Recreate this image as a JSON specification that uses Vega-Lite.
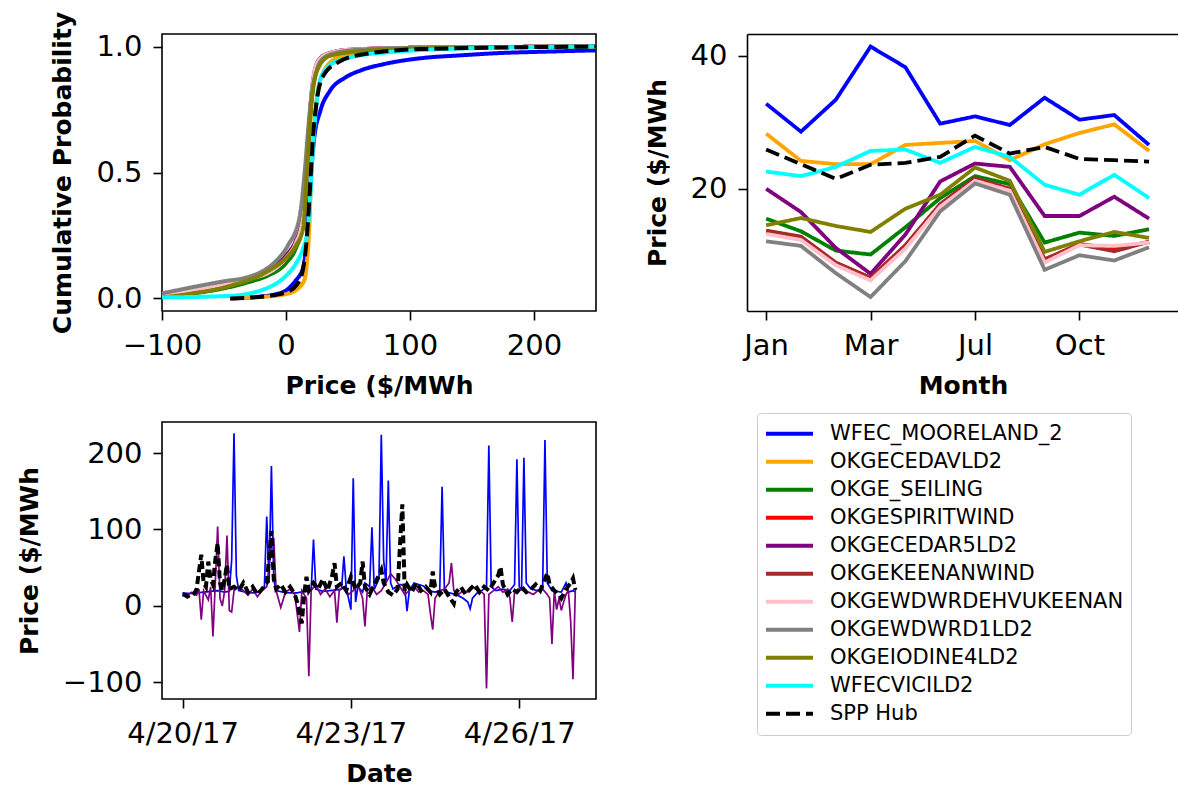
{
 "$schema": "https://vega.github.io/schema/vega-lite/v6.json",
 "background": "white",
 "padding": {"left": 16, "top": 10, "right": 0, "bottom": 2},
 "config": {
  "font": "DejaVu Sans",
  "view": {"stroke": "black", "strokeWidth": 1.6},
  "axis": {"grid": false, "domain": false, "tickColor": "black", "tickWidth": 1.6, "tickSize": 9, "labelFontSize": 29, "labelColor": "black", "labelPadding": 11, "labelFont": "DejaVu Sans", "titleFont": "DejaVu Sans", "titleFontSize": 25, "titleFontWeight": "bold", "titleColor": "black", "labelFlush": false, "labelOverlap": false},
  "axisX": {"titlePadding": 13},
  "axisY": {"titlePadding": 20}
 },
 "datasets": {
  "cdf": [
   {"s":"WFEC_MOORELAND_2","p":-45,"c":0},{"s":"WFEC_MOORELAND_2","p":-20,"c":0.008},{"s":"WFEC_MOORELAND_2","p":-7.7,"c":0.017},{"s":"WFEC_MOORELAND_2","p":1.5,"c":0.037},{"s":"WFEC_MOORELAND_2","p":7.7,"c":0.07},{"s":"WFEC_MOORELAND_2","p":13.9,"c":0.123},{"s":"WFEC_MOORELAND_2","p":17,"c":0.255},{"s":"WFEC_MOORELAND_2","p":19.4,"c":0.44},{"s":"WFEC_MOORELAND_2","p":22.5,"c":0.626},{"s":"WFEC_MOORELAND_2","p":27.7,"c":0.745},{"s":"WFEC_MOORELAND_2","p":35.4,"c":0.824},{"s":"WFEC_MOORELAND_2","p":47.8,"c":0.877},{"s":"WFEC_MOORELAND_2","p":60,"c":0.905},{"s":"WFEC_MOORELAND_2","p":78.6,"c":0.93},{"s":"WFEC_MOORELAND_2","p":109,"c":0.954},{"s":"WFEC_MOORELAND_2","p":140,"c":0.965},{"s":"WFEC_MOORELAND_2","p":171,"c":0.974},{"s":"WFEC_MOORELAND_2","p":210,"c":0.98},{"s":"WFEC_MOORELAND_2","p":250,"c":0.985},
   {"s":"OKGECEDAVLD2","p":-45,"c":0},{"s":"OKGECEDAVLD2","p":-20,"c":0.006},{"s":"OKGECEDAVLD2","p":0,"c":0.017},{"s":"OKGECEDAVLD2","p":10.8,"c":0.044},{"s":"OKGECEDAVLD2","p":15.4,"c":0.083},{"s":"OKGECEDAVLD2","p":17,"c":0.15},{"s":"OKGECEDAVLD2","p":18.5,"c":0.255},{"s":"OKGECEDAVLD2","p":20.6,"c":0.52},{"s":"OKGECEDAVLD2","p":23.7,"c":0.745},{"s":"OKGECEDAVLD2","p":29.3,"c":0.89},{"s":"OKGECEDAVLD2","p":41.6,"c":0.956},{"s":"OKGECEDAVLD2","p":60,"c":0.975},{"s":"OKGECEDAVLD2","p":78.6,"c":0.983},{"s":"OKGECEDAVLD2","p":120,"c":0.992},{"s":"OKGECEDAVLD2","p":250,"c":1.0},
   {"s":"OKGE_SEILING","p":-100,"c":0.008},{"s":"OKGE_SEILING","p":-75,"c":0.02},{"s":"OKGE_SEILING","p":-50,"c":0.04},{"s":"OKGE_SEILING","p":-30,"c":0.065},{"s":"OKGE_SEILING","p":-15,"c":0.09},{"s":"OKGE_SEILING","p":0,"c":0.14},{"s":"OKGE_SEILING","p":8,"c":0.2},{"s":"OKGE_SEILING","p":13,"c":0.28},{"s":"OKGE_SEILING","p":16,"c":0.45},{"s":"OKGE_SEILING","p":18,"c":0.6},{"s":"OKGE_SEILING","p":20,"c":0.75},{"s":"OKGE_SEILING","p":23,"c":0.88},{"s":"OKGE_SEILING","p":27,"c":0.94},{"s":"OKGE_SEILING","p":35,"c":0.97},{"s":"OKGE_SEILING","p":50,"c":0.985},{"s":"OKGE_SEILING","p":100,"c":0.995},{"s":"OKGE_SEILING","p":250,"c":1.0},
   {"s":"OKGESPIRITWIND","p":-100,"c":0.012},{"s":"OKGESPIRITWIND","p":-75,"c":0.03},{"s":"OKGESPIRITWIND","p":-50,"c":0.052},{"s":"OKGESPIRITWIND","p":-30,"c":0.078},{"s":"OKGESPIRITWIND","p":-15,"c":0.105},{"s":"OKGESPIRITWIND","p":0,"c":0.16},{"s":"OKGESPIRITWIND","p":8,"c":0.22},{"s":"OKGESPIRITWIND","p":13,"c":0.3},{"s":"OKGESPIRITWIND","p":16,"c":0.47},{"s":"OKGESPIRITWIND","p":18,"c":0.62},{"s":"OKGESPIRITWIND","p":20,"c":0.77},{"s":"OKGESPIRITWIND","p":23,"c":0.89},{"s":"OKGESPIRITWIND","p":27,"c":0.945},{"s":"OKGESPIRITWIND","p":35,"c":0.972},{"s":"OKGESPIRITWIND","p":50,"c":0.986},{"s":"OKGESPIRITWIND","p":100,"c":0.995},{"s":"OKGESPIRITWIND","p":250,"c":1.0},
   {"s":"OKGECEDAR5LD2","p":-100,"c":0.014},{"s":"OKGECEDAR5LD2","p":-75,"c":0.032},{"s":"OKGECEDAR5LD2","p":-50,"c":0.055},{"s":"OKGECEDAR5LD2","p":-30,"c":0.08},{"s":"OKGECEDAR5LD2","p":-15,"c":0.11},{"s":"OKGECEDAR5LD2","p":0,"c":0.17},{"s":"OKGECEDAR5LD2","p":8,"c":0.23},{"s":"OKGECEDAR5LD2","p":13,"c":0.31},{"s":"OKGECEDAR5LD2","p":16,"c":0.48},{"s":"OKGECEDAR5LD2","p":18,"c":0.63},{"s":"OKGECEDAR5LD2","p":20,"c":0.78},{"s":"OKGECEDAR5LD2","p":23,"c":0.9},{"s":"OKGECEDAR5LD2","p":27,"c":0.95},{"s":"OKGECEDAR5LD2","p":35,"c":0.974},{"s":"OKGECEDAR5LD2","p":50,"c":0.987},{"s":"OKGECEDAR5LD2","p":100,"c":0.995},{"s":"OKGECEDAR5LD2","p":250,"c":1.0},
   {"s":"OKGEKEENANWIND","p":-100,"c":0.014},{"s":"OKGEKEENANWIND","p":-75,"c":0.032},{"s":"OKGEKEENANWIND","p":-50,"c":0.054},{"s":"OKGEKEENANWIND","p":-30,"c":0.08},{"s":"OKGEKEENANWIND","p":-15,"c":0.107},{"s":"OKGEKEENANWIND","p":0,"c":0.162},{"s":"OKGEKEENANWIND","p":8,"c":0.222},{"s":"OKGEKEENANWIND","p":13,"c":0.302},{"s":"OKGEKEENANWIND","p":16,"c":0.472},{"s":"OKGEKEENANWIND","p":18,"c":0.622},{"s":"OKGEKEENANWIND","p":20,"c":0.772},{"s":"OKGEKEENANWIND","p":23,"c":0.892},{"s":"OKGEKEENANWIND","p":27,"c":0.946},{"s":"OKGEKEENANWIND","p":35,"c":0.972},{"s":"OKGEKEENANWIND","p":50,"c":0.986},{"s":"OKGEKEENANWIND","p":100,"c":0.995},{"s":"OKGEKEENANWIND","p":250,"c":1.0},
   {"s":"OKGEWDWRDEHVUKEENAN","p":-100,"c":0.012},{"s":"OKGEWDWRDEHVUKEENAN","p":-75,"c":0.035},{"s":"OKGEWDWRDEHVUKEENAN","p":-60,"c":0.046},{"s":"OKGEWDWRDEHVUKEENAN","p":-40,"c":0.07},{"s":"OKGEWDWRDEHVUKEENAN","p":-15,"c":0.1},{"s":"OKGEWDWRDEHVUKEENAN","p":0,"c":0.16},{"s":"OKGEWDWRDEHVUKEENAN","p":8,"c":0.22},{"s":"OKGEWDWRDEHVUKEENAN","p":13,"c":0.3},{"s":"OKGEWDWRDEHVUKEENAN","p":16,"c":0.47},{"s":"OKGEWDWRDEHVUKEENAN","p":18,"c":0.63},{"s":"OKGEWDWRDEHVUKEENAN","p":20,"c":0.78},{"s":"OKGEWDWRDEHVUKEENAN","p":23,"c":0.9},{"s":"OKGEWDWRDEHVUKEENAN","p":27,"c":0.948},{"s":"OKGEWDWRDEHVUKEENAN","p":35,"c":0.973},{"s":"OKGEWDWRDEHVUKEENAN","p":50,"c":0.987},{"s":"OKGEWDWRDEHVUKEENAN","p":100,"c":0.995},{"s":"OKGEWDWRDEHVUKEENAN","p":250,"c":1.0},
   {"s":"OKGEWDWRD1LD2","p":-100,"c":0.02},{"s":"OKGEWDWRD1LD2","p":-75,"c":0.045},{"s":"OKGEWDWRD1LD2","p":-50,"c":0.068},{"s":"OKGEWDWRD1LD2","p":-32,"c":0.083},{"s":"OKGEWDWRD1LD2","p":-15,"c":0.12},{"s":"OKGEWDWRD1LD2","p":-7.7,"c":0.15},{"s":"OKGEWDWRD1LD2","p":1.5,"c":0.21},{"s":"OKGEWDWRD1LD2","p":10.8,"c":0.32},{"s":"OKGEWDWRD1LD2","p":15.4,"c":0.52},{"s":"OKGEWDWRD1LD2","p":18,"c":0.68},{"s":"OKGEWDWRD1LD2","p":21,"c":0.82},{"s":"OKGEWDWRD1LD2","p":25,"c":0.91},{"s":"OKGEWDWRD1LD2","p":29.3,"c":0.95},{"s":"OKGEWDWRD1LD2","p":40,"c":0.975},{"s":"OKGEWDWRD1LD2","p":60,"c":0.988},{"s":"OKGEWDWRD1LD2","p":100,"c":0.995},{"s":"OKGEWDWRD1LD2","p":250,"c":1.0},
   {"s":"OKGEIODINE4LD2","p":-100,"c":0.004},{"s":"OKGEIODINE4LD2","p":-75,"c":0.02},{"s":"OKGEIODINE4LD2","p":-45,"c":0.05},{"s":"OKGEIODINE4LD2","p":-14,"c":0.11},{"s":"OKGEIODINE4LD2","p":0,"c":0.16},{"s":"OKGEIODINE4LD2","p":8,"c":0.21},{"s":"OKGEIODINE4LD2","p":13.9,"c":0.28},{"s":"OKGEIODINE4LD2","p":17,"c":0.52},{"s":"OKGEIODINE4LD2","p":20.6,"c":0.78},{"s":"OKGEIODINE4LD2","p":26.2,"c":0.917},{"s":"OKGEIODINE4LD2","p":35.4,"c":0.963},{"s":"OKGEIODINE4LD2","p":63,"c":0.983},{"s":"OKGEIODINE4LD2","p":109,"c":0.993},{"s":"OKGEIODINE4LD2","p":250,"c":1.0},
   {"s":"WFECVICILD2","p":-100,"c":0.004},{"s":"WFECVICILD2","p":-45,"c":0.01},{"s":"WFECVICILD2","p":-13.9,"c":0.044},{"s":"WFECVICILD2","p":-1.5,"c":0.083},{"s":"WFECVICILD2","p":7.7,"c":0.136},{"s":"WFECVICILD2","p":13.9,"c":0.2},{"s":"WFECVICILD2","p":17,"c":0.255},{"s":"WFECVICILD2","p":19.4,"c":0.39},{"s":"WFECVICILD2","p":21.6,"c":0.586},{"s":"WFECVICILD2","p":24.7,"c":0.78},{"s":"WFECVICILD2","p":29.3,"c":0.89},{"s":"WFECVICILD2","p":41.6,"c":0.943},{"s":"WFECVICILD2","p":78.6,"c":0.976},{"s":"WFECVICILD2","p":171,"c":0.996},{"s":"WFECVICILD2","p":250,"c":1.0},
   {"s":"SPP Hub","p":-45,"c":0},{"s":"SPP Hub","p":-13.9,"c":0.01},{"s":"SPP Hub","p":0,"c":0.024},{"s":"SPP Hub","p":9.2,"c":0.057},{"s":"SPP Hub","p":13.9,"c":0.12},{"s":"SPP Hub","p":17,"c":0.255},{"s":"SPP Hub","p":19.4,"c":0.44},{"s":"SPP Hub","p":21.6,"c":0.626},{"s":"SPP Hub","p":24.7,"c":0.78},{"s":"SPP Hub","p":29.3,"c":0.877},{"s":"SPP Hub","p":41.6,"c":0.937},{"s":"SPP Hub","p":63,"c":0.97},{"s":"SPP Hub","p":109,"c":0.99},{"s":"SPP Hub","p":250,"c":1.0}
  ],
  "monthly": [
   {"s":"WFEC_MOORELAND_2","i":0,"v":32.8},{"s":"WFEC_MOORELAND_2","i":1,"v":28.6},{"s":"WFEC_MOORELAND_2","i":2,"v":33.4},{"s":"WFEC_MOORELAND_2","i":3,"v":41.4},{"s":"WFEC_MOORELAND_2","i":4,"v":38.3},{"s":"WFEC_MOORELAND_2","i":5,"v":29.8},{"s":"WFEC_MOORELAND_2","i":6,"v":30.9},{"s":"WFEC_MOORELAND_2","i":7,"v":29.6},{"s":"WFEC_MOORELAND_2","i":8,"v":33.7},{"s":"WFEC_MOORELAND_2","i":9,"v":30.4},{"s":"WFEC_MOORELAND_2","i":10,"v":31.1},{"s":"WFEC_MOORELAND_2","i":11,"v":26.6},
   {"s":"OKGECEDAVLD2","i":0,"v":28.3},{"s":"OKGECEDAVLD2","i":1,"v":24.2},{"s":"OKGECEDAVLD2","i":2,"v":23.7},{"s":"OKGECEDAVLD2","i":3,"v":23.7},{"s":"OKGECEDAVLD2","i":4,"v":26.6},{"s":"OKGECEDAVLD2","i":5,"v":26.9},{"s":"OKGECEDAVLD2","i":6,"v":27.2},{"s":"OKGECEDAVLD2","i":7,"v":24.3},{"s":"OKGECEDAVLD2","i":8,"v":26.7},{"s":"OKGECEDAVLD2","i":9,"v":28.4},{"s":"OKGECEDAVLD2","i":10,"v":29.7},{"s":"OKGECEDAVLD2","i":11,"v":25.7},
   {"s":"OKGE_SEILING","i":0,"v":15.5},{"s":"OKGE_SEILING","i":1,"v":13.6},{"s":"OKGE_SEILING","i":2,"v":10.7},{"s":"OKGE_SEILING","i":3,"v":10.1},{"s":"OKGE_SEILING","i":4,"v":14.2},{"s":"OKGE_SEILING","i":5,"v":18.6},{"s":"OKGE_SEILING","i":6,"v":21.9},{"s":"OKGE_SEILING","i":7,"v":20.7},{"s":"OKGE_SEILING","i":8,"v":11.9},{"s":"OKGE_SEILING","i":9,"v":13.4},{"s":"OKGE_SEILING","i":10,"v":12.9},{"s":"OKGE_SEILING","i":11,"v":13.9},
   {"s":"OKGESPIRITWIND","i":0,"v":13.6},{"s":"OKGESPIRITWIND","i":1,"v":12.7},{"s":"OKGESPIRITWIND","i":2,"v":8.8},{"s":"OKGESPIRITWIND","i":3,"v":6.6},{"s":"OKGESPIRITWIND","i":4,"v":11.4},{"s":"OKGESPIRITWIND","i":5,"v":17.6},{"s":"OKGESPIRITWIND","i":6,"v":21.5},{"s":"OKGESPIRITWIND","i":7,"v":19.9},{"s":"OKGESPIRITWIND","i":8,"v":9.3},{"s":"OKGESPIRITWIND","i":9,"v":11.7},{"s":"OKGESPIRITWIND","i":10,"v":11.0},{"s":"OKGESPIRITWIND","i":11,"v":12.0},
   {"s":"OKGECEDAR5LD2","i":0,"v":20.0},{"s":"OKGECEDAR5LD2","i":1,"v":16.5},{"s":"OKGECEDAR5LD2","i":2,"v":11.1},{"s":"OKGECEDAR5LD2","i":3,"v":7.2},{"s":"OKGECEDAR5LD2","i":4,"v":13.1},{"s":"OKGECEDAR5LD2","i":5,"v":21.1},{"s":"OKGECEDAR5LD2","i":6,"v":23.8},{"s":"OKGECEDAR5LD2","i":7,"v":23.3},{"s":"OKGECEDAR5LD2","i":8,"v":15.9},{"s":"OKGECEDAR5LD2","i":9,"v":15.9},{"s":"OKGECEDAR5LD2","i":10,"v":18.8},{"s":"OKGECEDAR5LD2","i":11,"v":15.5},
   {"s":"OKGEKEENANWIND","i":0,"v":13.7},{"s":"OKGEKEENANWIND","i":1,"v":12.8},{"s":"OKGEKEENANWIND","i":2,"v":8.9},{"s":"OKGEKEENANWIND","i":3,"v":6.6},{"s":"OKGEKEENANWIND","i":4,"v":11.5},{"s":"OKGEKEENANWIND","i":5,"v":17.7},{"s":"OKGEKEENANWIND","i":6,"v":21.6},{"s":"OKGEKEENANWIND","i":7,"v":20.0},{"s":"OKGEKEENANWIND","i":8,"v":9.4},{"s":"OKGEKEENANWIND","i":9,"v":11.6},{"s":"OKGEKEENANWIND","i":10,"v":10.6},{"s":"OKGEKEENANWIND","i":11,"v":12.0},
   {"s":"OKGEWDWRDEHVUKEENAN","i":0,"v":13.2},{"s":"OKGEWDWRDEHVUKEENAN","i":1,"v":12.3},{"s":"OKGEWDWRDEHVUKEENAN","i":2,"v":8.5},{"s":"OKGEWDWRDEHVUKEENAN","i":3,"v":6.2},{"s":"OKGEWDWRDEHVUKEENAN","i":4,"v":11.0},{"s":"OKGEWDWRDEHVUKEENAN","i":5,"v":17.3},{"s":"OKGEWDWRDEHVUKEENAN","i":6,"v":21.2},{"s":"OKGEWDWRDEHVUKEENAN","i":7,"v":19.7},{"s":"OKGEWDWRDEHVUKEENAN","i":8,"v":8.9},{"s":"OKGEWDWRDEHVUKEENAN","i":9,"v":11.5},{"s":"OKGEWDWRDEHVUKEENAN","i":10,"v":11.4},{"s":"OKGEWDWRDEHVUKEENAN","i":11,"v":11.9},
   {"s":"OKGEWDWRD1LD2","i":0,"v":12.1},{"s":"OKGEWDWRD1LD2","i":1,"v":11.4},{"s":"OKGEWDWRD1LD2","i":2,"v":7.3},{"s":"OKGEWDWRD1LD2","i":3,"v":3.7},{"s":"OKGEWDWRD1LD2","i":4,"v":9.1},{"s":"OKGEWDWRD1LD2","i":5,"v":16.6},{"s":"OKGEWDWRD1LD2","i":6,"v":20.8},{"s":"OKGEWDWRD1LD2","i":7,"v":19.1},{"s":"OKGEWDWRD1LD2","i":8,"v":7.8},{"s":"OKGEWDWRD1LD2","i":9,"v":10.0},{"s":"OKGEWDWRD1LD2","i":10,"v":9.2},{"s":"OKGEWDWRD1LD2","i":11,"v":11.2},
   {"s":"OKGEIODINE4LD2","i":0,"v":14.5},{"s":"OKGEIODINE4LD2","i":1,"v":15.6},{"s":"OKGEIODINE4LD2","i":2,"v":14.4},{"s":"OKGEIODINE4LD2","i":3,"v":13.5},{"s":"OKGEIODINE4LD2","i":4,"v":17.0},{"s":"OKGEIODINE4LD2","i":5,"v":19.1},{"s":"OKGEIODINE4LD2","i":6,"v":23.2},{"s":"OKGEIODINE4LD2","i":7,"v":21.2},{"s":"OKGEIODINE4LD2","i":8,"v":10.5},{"s":"OKGEIODINE4LD2","i":9,"v":12.1},{"s":"OKGEIODINE4LD2","i":10,"v":13.5},{"s":"OKGEIODINE4LD2","i":11,"v":12.6},
   {"s":"WFECVICILD2","i":0,"v":22.6},{"s":"WFECVICILD2","i":1,"v":21.9},{"s":"WFECVICILD2","i":2,"v":23.3},{"s":"WFECVICILD2","i":3,"v":25.7},{"s":"WFECVICILD2","i":4,"v":25.9},{"s":"WFECVICILD2","i":5,"v":23.9},{"s":"WFECVICILD2","i":6,"v":26.3},{"s":"WFECVICILD2","i":7,"v":24.8},{"s":"WFECVICILD2","i":8,"v":20.6},{"s":"WFECVICILD2","i":9,"v":19.1},{"s":"WFECVICILD2","i":10,"v":22.1},{"s":"WFECVICILD2","i":11,"v":18.6},
   {"s":"SPP Hub","i":0,"v":25.9},{"s":"SPP Hub","i":1,"v":23.7},{"s":"SPP Hub","i":2,"v":21.5},{"s":"SPP Hub","i":3,"v":23.6},{"s":"SPP Hub","i":4,"v":23.9},{"s":"SPP Hub","i":5,"v":24.8},{"s":"SPP Hub","i":6,"v":28.0},{"s":"SPP Hub","i":7,"v":25.3},{"s":"SPP Hub","i":8,"v":26.3},{"s":"SPP Hub","i":9,"v":24.5},{"s":"SPP Hub","i":10,"v":24.3},{"s":"SPP Hub","i":11,"v":24.1}
  ],
  "hourly": [
   {"s":"WFEC_MOORELAND_2","t":"2017-04-20T00:00","v":17},{"s":"WFEC_MOORELAND_2","t":"2017-04-20T03:00","v":16},{"s":"WFEC_MOORELAND_2","t":"2017-04-20T06:00","v":17},{"s":"WFEC_MOORELAND_2","t":"2017-04-20T09:00","v":18},{"s":"WFEC_MOORELAND_2","t":"2017-04-20T12:00","v":19},{"s":"WFEC_MOORELAND_2","t":"2017-04-20T15:00","v":20},{"s":"WFEC_MOORELAND_2","t":"2017-04-20T18:00","v":18},{"s":"WFEC_MOORELAND_2","t":"2017-04-20T20:00","v":19},{"s":"WFEC_MOORELAND_2","t":"2017-04-20T21:00","v":60},{"s":"WFEC_MOORELAND_2","t":"2017-04-20T22:00","v":226},{"s":"WFEC_MOORELAND_2","t":"2017-04-20T23:00","v":40},
   {"s":"WFEC_MOORELAND_2","t":"2017-04-21T00:00","v":20},{"s":"WFEC_MOORELAND_2","t":"2017-04-21T03:00","v":18},{"s":"WFEC_MOORELAND_2","t":"2017-04-21T06:00","v":17},{"s":"WFEC_MOORELAND_2","t":"2017-04-21T09:00","v":18},{"s":"WFEC_MOORELAND_2","t":"2017-04-21T11:00","v":25},{"s":"WFEC_MOORELAND_2","t":"2017-04-21T12:00","v":117},{"s":"WFEC_MOORELAND_2","t":"2017-04-21T13:00","v":30},{"s":"WFEC_MOORELAND_2","t":"2017-04-21T14:00","v":183},{"s":"WFEC_MOORELAND_2","t":"2017-04-21T15:00","v":35},{"s":"WFEC_MOORELAND_2","t":"2017-04-21T16:00","v":20},{"s":"WFEC_MOORELAND_2","t":"2017-04-21T19:00","v":18},{"s":"WFEC_MOORELAND_2","t":"2017-04-21T22:00","v":17},
   {"s":"WFEC_MOORELAND_2","t":"2017-04-22T01:00","v":17},{"s":"WFEC_MOORELAND_2","t":"2017-04-22T04:00","v":19},{"s":"WFEC_MOORELAND_2","t":"2017-04-22T07:00","v":20},{"s":"WFEC_MOORELAND_2","t":"2017-04-22T08:00","v":87},{"s":"WFEC_MOORELAND_2","t":"2017-04-22T09:00","v":22},{"s":"WFEC_MOORELAND_2","t":"2017-04-22T12:00","v":19},{"s":"WFEC_MOORELAND_2","t":"2017-04-22T15:00","v":20},{"s":"WFEC_MOORELAND_2","t":"2017-04-22T18:00","v":21},{"s":"WFEC_MOORELAND_2","t":"2017-04-22T20:00","v":22},{"s":"WFEC_MOORELAND_2","t":"2017-04-22T21:00","v":65},{"s":"WFEC_MOORELAND_2","t":"2017-04-22T22:00","v":24},
   {"s":"WFEC_MOORELAND_2","t":"2017-04-23T00:00","v":-5},{"s":"WFEC_MOORELAND_2","t":"2017-04-23T01:00","v":167},{"s":"WFEC_MOORELAND_2","t":"2017-04-23T02:00","v":5},{"s":"WFEC_MOORELAND_2","t":"2017-04-23T03:00","v":25},{"s":"WFEC_MOORELAND_2","t":"2017-04-23T05:00","v":18},{"s":"WFEC_MOORELAND_2","t":"2017-04-23T06:00","v":30},{"s":"WFEC_MOORELAND_2","t":"2017-04-23T08:00","v":25},{"s":"WFEC_MOORELAND_2","t":"2017-04-23T09:00","v":103},{"s":"WFEC_MOORELAND_2","t":"2017-04-23T10:00","v":22},{"s":"WFEC_MOORELAND_2","t":"2017-04-23T12:00","v":35},{"s":"WFEC_MOORELAND_2","t":"2017-04-23T13:00","v":224},{"s":"WFEC_MOORELAND_2","t":"2017-04-23T14:00","v":60},{"s":"WFEC_MOORELAND_2","t":"2017-04-23T15:00","v":30},{"s":"WFEC_MOORELAND_2","t":"2017-04-23T16:00","v":164},{"s":"WFEC_MOORELAND_2","t":"2017-04-23T17:00","v":30},{"s":"WFEC_MOORELAND_2","t":"2017-04-23T18:00","v":22},{"s":"WFEC_MOORELAND_2","t":"2017-04-23T21:00","v":28},{"s":"WFEC_MOORELAND_2","t":"2017-04-23T23:00","v":26},
   {"s":"WFEC_MOORELAND_2","t":"2017-04-24T00:00","v":-7},{"s":"WFEC_MOORELAND_2","t":"2017-04-24T01:00","v":20},{"s":"WFEC_MOORELAND_2","t":"2017-04-24T03:00","v":30},{"s":"WFEC_MOORELAND_2","t":"2017-04-24T05:00","v":28},{"s":"WFEC_MOORELAND_2","t":"2017-04-24T07:00","v":26},{"s":"WFEC_MOORELAND_2","t":"2017-04-24T09:00","v":20},{"s":"WFEC_MOORELAND_2","t":"2017-04-24T12:00","v":18},{"s":"WFEC_MOORELAND_2","t":"2017-04-24T14:00","v":20},{"s":"WFEC_MOORELAND_2","t":"2017-04-24T15:00","v":156},{"s":"WFEC_MOORELAND_2","t":"2017-04-24T16:00","v":20},{"s":"WFEC_MOORELAND_2","t":"2017-04-24T18:00","v":17},{"s":"WFEC_MOORELAND_2","t":"2017-04-24T21:00","v":15},
   {"s":"WFEC_MOORELAND_2","t":"2017-04-25T00:00","v":10},{"s":"WFEC_MOORELAND_2","t":"2017-04-25T02:00","v":5},{"s":"WFEC_MOORELAND_2","t":"2017-04-25T03:00","v":-4},{"s":"WFEC_MOORELAND_2","t":"2017-04-25T04:00","v":10},{"s":"WFEC_MOORELAND_2","t":"2017-04-25T06:00","v":17},{"s":"WFEC_MOORELAND_2","t":"2017-04-25T08:00","v":20},{"s":"WFEC_MOORELAND_2","t":"2017-04-25T10:00","v":25},{"s":"WFEC_MOORELAND_2","t":"2017-04-25T11:00","v":210},{"s":"WFEC_MOORELAND_2","t":"2017-04-25T12:00","v":25},{"s":"WFEC_MOORELAND_2","t":"2017-04-25T14:00","v":20},{"s":"WFEC_MOORELAND_2","t":"2017-04-25T17:00","v":22},{"s":"WFEC_MOORELAND_2","t":"2017-04-25T20:00","v":20},{"s":"WFEC_MOORELAND_2","t":"2017-04-25T22:00","v":28},{"s":"WFEC_MOORELAND_2","t":"2017-04-25T23:00","v":192},
   {"s":"WFEC_MOORELAND_2","t":"2017-04-26T00:00","v":25},{"s":"WFEC_MOORELAND_2","t":"2017-04-26T01:00","v":22},{"s":"WFEC_MOORELAND_2","t":"2017-04-26T02:00","v":194},{"s":"WFEC_MOORELAND_2","t":"2017-04-26T03:00","v":30},{"s":"WFEC_MOORELAND_2","t":"2017-04-26T05:00","v":22},{"s":"WFEC_MOORELAND_2","t":"2017-04-26T08:00","v":20},{"s":"WFEC_MOORELAND_2","t":"2017-04-26T10:00","v":22},{"s":"WFEC_MOORELAND_2","t":"2017-04-26T11:00","v":217},{"s":"WFEC_MOORELAND_2","t":"2017-04-26T12:00","v":30},{"s":"WFEC_MOORELAND_2","t":"2017-04-26T14:00","v":20},{"s":"WFEC_MOORELAND_2","t":"2017-04-26T16:00","v":19},{"s":"WFEC_MOORELAND_2","t":"2017-04-26T18:00","v":18},{"s":"WFEC_MOORELAND_2","t":"2017-04-26T20:00","v":30},{"s":"WFEC_MOORELAND_2","t":"2017-04-26T21:00","v":18},{"s":"WFEC_MOORELAND_2","t":"2017-04-26T23:00","v":20},{"s":"WFEC_MOORELAND_2","t":"2017-04-27T00:00","v":18},
   {"s":"OKGECEDAR5LD2","t":"2017-04-20T00:00","v":16},{"s":"OKGECEDAR5LD2","t":"2017-04-20T02:00","v":15},{"s":"OKGECEDAR5LD2","t":"2017-04-20T04:00","v":18},{"s":"OKGECEDAR5LD2","t":"2017-04-20T06:00","v":14},{"s":"OKGECEDAR5LD2","t":"2017-04-20T07:00","v":22},{"s":"OKGECEDAR5LD2","t":"2017-04-20T08:00","v":-18},{"s":"OKGECEDAR5LD2","t":"2017-04-20T09:00","v":20},{"s":"OKGECEDAR5LD2","t":"2017-04-20T11:00","v":8},{"s":"OKGECEDAR5LD2","t":"2017-04-20T12:00","v":25},{"s":"OKGECEDAR5LD2","t":"2017-04-20T13:00","v":-40},{"s":"OKGECEDAR5LD2","t":"2017-04-20T14:00","v":30},{"s":"OKGECEDAR5LD2","t":"2017-04-20T15:00","v":104},{"s":"OKGECEDAR5LD2","t":"2017-04-20T16:00","v":10},{"s":"OKGECEDAR5LD2","t":"2017-04-20T17:00","v":0},{"s":"OKGECEDAR5LD2","t":"2017-04-20T18:00","v":20},{"s":"OKGECEDAR5LD2","t":"2017-04-20T19:00","v":92},{"s":"OKGECEDAR5LD2","t":"2017-04-20T20:00","v":-6},{"s":"OKGECEDAR5LD2","t":"2017-04-20T21:00","v":-8},{"s":"OKGECEDAR5LD2","t":"2017-04-20T22:00","v":20},
   {"s":"OKGECEDAR5LD2","t":"2017-04-21T00:00","v":25},{"s":"OKGECEDAR5LD2","t":"2017-04-21T02:00","v":20},{"s":"OKGECEDAR5LD2","t":"2017-04-21T04:00","v":14},{"s":"OKGECEDAR5LD2","t":"2017-04-21T06:00","v":22},{"s":"OKGECEDAR5LD2","t":"2017-04-21T08:00","v":12},{"s":"OKGECEDAR5LD2","t":"2017-04-21T10:00","v":20},{"s":"OKGECEDAR5LD2","t":"2017-04-21T12:00","v":25},{"s":"OKGECEDAR5LD2","t":"2017-04-21T14:00","v":80},{"s":"OKGECEDAR5LD2","t":"2017-04-21T15:00","v":89},{"s":"OKGECEDAR5LD2","t":"2017-04-21T16:00","v":20},{"s":"OKGECEDAR5LD2","t":"2017-04-21T18:00","v":-2},{"s":"OKGECEDAR5LD2","t":"2017-04-21T20:00","v":18},{"s":"OKGECEDAR5LD2","t":"2017-04-21T22:00","v":22},
   {"s":"OKGECEDAR5LD2","t":"2017-04-22T00:00","v":15},{"s":"OKGECEDAR5LD2","t":"2017-04-22T02:00","v":-34},{"s":"OKGECEDAR5LD2","t":"2017-04-22T03:00","v":20},{"s":"OKGECEDAR5LD2","t":"2017-04-22T05:00","v":10},{"s":"OKGECEDAR5LD2","t":"2017-04-22T06:00","v":-92},{"s":"OKGECEDAR5LD2","t":"2017-04-22T07:00","v":20},{"s":"OKGECEDAR5LD2","t":"2017-04-22T09:00","v":28},{"s":"OKGECEDAR5LD2","t":"2017-04-22T11:00","v":15},{"s":"OKGECEDAR5LD2","t":"2017-04-22T13:00","v":22},{"s":"OKGECEDAR5LD2","t":"2017-04-22T15:00","v":12},{"s":"OKGECEDAR5LD2","t":"2017-04-22T17:00","v":20},{"s":"OKGECEDAR5LD2","t":"2017-04-22T18:00","v":-22},{"s":"OKGECEDAR5LD2","t":"2017-04-22T19:00","v":20},{"s":"OKGECEDAR5LD2","t":"2017-04-22T21:00","v":25},{"s":"OKGECEDAR5LD2","t":"2017-04-22T23:00","v":15},
   {"s":"OKGECEDAR5LD2","t":"2017-04-23T01:00","v":20},{"s":"OKGECEDAR5LD2","t":"2017-04-23T03:00","v":28},{"s":"OKGECEDAR5LD2","t":"2017-04-23T05:00","v":10},{"s":"OKGECEDAR5LD2","t":"2017-04-23T06:00","v":-27},{"s":"OKGECEDAR5LD2","t":"2017-04-23T07:00","v":20},{"s":"OKGECEDAR5LD2","t":"2017-04-23T09:00","v":25},{"s":"OKGECEDAR5LD2","t":"2017-04-23T11:00","v":15},{"s":"OKGECEDAR5LD2","t":"2017-04-23T13:00","v":20},{"s":"OKGECEDAR5LD2","t":"2017-04-23T15:00","v":30},{"s":"OKGECEDAR5LD2","t":"2017-04-23T17:00","v":42},{"s":"OKGECEDAR5LD2","t":"2017-04-23T19:00","v":35},{"s":"OKGECEDAR5LD2","t":"2017-04-23T21:00","v":25},{"s":"OKGECEDAR5LD2","t":"2017-04-23T23:00","v":15},
   {"s":"OKGECEDAR5LD2","t":"2017-04-24T01:00","v":20},{"s":"OKGECEDAR5LD2","t":"2017-04-24T03:00","v":25},{"s":"OKGECEDAR5LD2","t":"2017-04-24T05:00","v":18},{"s":"OKGECEDAR5LD2","t":"2017-04-24T07:00","v":20},{"s":"OKGECEDAR5LD2","t":"2017-04-24T09:00","v":15},{"s":"OKGECEDAR5LD2","t":"2017-04-24T10:00","v":-10},{"s":"OKGECEDAR5LD2","t":"2017-04-24T11:00","v":-31},{"s":"OKGECEDAR5LD2","t":"2017-04-24T12:00","v":10},{"s":"OKGECEDAR5LD2","t":"2017-04-24T14:00","v":20},{"s":"OKGECEDAR5LD2","t":"2017-04-24T16:00","v":22},{"s":"OKGECEDAR5LD2","t":"2017-04-24T18:00","v":30},{"s":"OKGECEDAR5LD2","t":"2017-04-24T19:00","v":56},{"s":"OKGECEDAR5LD2","t":"2017-04-24T20:00","v":20},{"s":"OKGECEDAR5LD2","t":"2017-04-24T22:00","v":15},
   {"s":"OKGECEDAR5LD2","t":"2017-04-25T00:00","v":20},{"s":"OKGECEDAR5LD2","t":"2017-04-25T02:00","v":18},{"s":"OKGECEDAR5LD2","t":"2017-04-25T04:00","v":25},{"s":"OKGECEDAR5LD2","t":"2017-04-25T06:00","v":20},{"s":"OKGECEDAR5LD2","t":"2017-04-25T08:00","v":18},{"s":"OKGECEDAR5LD2","t":"2017-04-25T09:00","v":15},{"s":"OKGECEDAR5LD2","t":"2017-04-25T10:00","v":-108},{"s":"OKGECEDAR5LD2","t":"2017-04-25T11:00","v":15},{"s":"OKGECEDAR5LD2","t":"2017-04-25T13:00","v":20},{"s":"OKGECEDAR5LD2","t":"2017-04-25T15:00","v":25},{"s":"OKGECEDAR5LD2","t":"2017-04-25T17:00","v":18},{"s":"OKGECEDAR5LD2","t":"2017-04-25T19:00","v":22},{"s":"OKGECEDAR5LD2","t":"2017-04-25T20:00","v":10},{"s":"OKGECEDAR5LD2","t":"2017-04-25T21:00","v":-21},{"s":"OKGECEDAR5LD2","t":"2017-04-25T22:00","v":18},
   {"s":"OKGECEDAR5LD2","t":"2017-04-26T00:00","v":22},{"s":"OKGECEDAR5LD2","t":"2017-04-26T02:00","v":20},{"s":"OKGECEDAR5LD2","t":"2017-04-26T04:00","v":18},{"s":"OKGECEDAR5LD2","t":"2017-04-26T06:00","v":15},{"s":"OKGECEDAR5LD2","t":"2017-04-26T08:00","v":20},{"s":"OKGECEDAR5LD2","t":"2017-04-26T10:00","v":22},{"s":"OKGECEDAR5LD2","t":"2017-04-26T12:00","v":15},{"s":"OKGECEDAR5LD2","t":"2017-04-26T13:00","v":10},{"s":"OKGECEDAR5LD2","t":"2017-04-26T14:00","v":-50},{"s":"OKGECEDAR5LD2","t":"2017-04-26T15:00","v":20},{"s":"OKGECEDAR5LD2","t":"2017-04-26T16:00","v":-5},{"s":"OKGECEDAR5LD2","t":"2017-04-26T17:00","v":10},{"s":"OKGECEDAR5LD2","t":"2017-04-26T18:00","v":-6},{"s":"OKGECEDAR5LD2","t":"2017-04-26T19:00","v":5},{"s":"OKGECEDAR5LD2","t":"2017-04-26T20:00","v":15},{"s":"OKGECEDAR5LD2","t":"2017-04-26T21:00","v":20},{"s":"OKGECEDAR5LD2","t":"2017-04-26T22:00","v":-20},{"s":"OKGECEDAR5LD2","t":"2017-04-26T23:00","v":-96},{"s":"OKGECEDAR5LD2","t":"2017-04-27T00:00","v":22},
   {"s":"SPP Hub","t":"2017-04-20T00:00","v":15},{"s":"SPP Hub","t":"2017-04-20T01:00","v":14},{"s":"SPP Hub","t":"2017-04-20T02:00","v":12},{"s":"SPP Hub","t":"2017-04-20T03:00","v":14},{"s":"SPP Hub","t":"2017-04-20T04:00","v":13},{"s":"SPP Hub","t":"2017-04-20T05:00","v":16},{"s":"SPP Hub","t":"2017-04-20T06:00","v":22},{"s":"SPP Hub","t":"2017-04-20T07:00","v":45},{"s":"SPP Hub","t":"2017-04-20T08:00","v":67},{"s":"SPP Hub","t":"2017-04-20T09:00","v":30},{"s":"SPP Hub","t":"2017-04-20T10:00","v":25},{"s":"SPP Hub","t":"2017-04-20T11:00","v":58},{"s":"SPP Hub","t":"2017-04-20T12:00","v":35},{"s":"SPP Hub","t":"2017-04-20T13:00","v":28},{"s":"SPP Hub","t":"2017-04-20T14:00","v":60},{"s":"SPP Hub","t":"2017-04-20T15:00","v":82},{"s":"SPP Hub","t":"2017-04-20T16:00","v":30},{"s":"SPP Hub","t":"2017-04-20T17:00","v":20},{"s":"SPP Hub","t":"2017-04-20T18:00","v":35},{"s":"SPP Hub","t":"2017-04-20T19:00","v":54},{"s":"SPP Hub","t":"2017-04-20T20:00","v":22},{"s":"SPP Hub","t":"2017-04-20T22:00","v":25},
   {"s":"SPP Hub","t":"2017-04-21T00:00","v":20},{"s":"SPP Hub","t":"2017-04-21T02:00","v":30},{"s":"SPP Hub","t":"2017-04-21T04:00","v":18},{"s":"SPP Hub","t":"2017-04-21T06:00","v":25},{"s":"SPP Hub","t":"2017-04-21T08:00","v":15},{"s":"SPP Hub","t":"2017-04-21T10:00","v":22},{"s":"SPP Hub","t":"2017-04-21T12:00","v":30},{"s":"SPP Hub","t":"2017-04-21T13:00","v":62},{"s":"SPP Hub","t":"2017-04-21T14:00","v":98},{"s":"SPP Hub","t":"2017-04-21T15:00","v":35},{"s":"SPP Hub","t":"2017-04-21T16:00","v":22},{"s":"SPP Hub","t":"2017-04-21T18:00","v":28},{"s":"SPP Hub","t":"2017-04-21T20:00","v":18},{"s":"SPP Hub","t":"2017-04-21T22:00","v":25},
   {"s":"SPP Hub","t":"2017-04-22T00:00","v":15},{"s":"SPP Hub","t":"2017-04-22T01:00","v":5},{"s":"SPP Hub","t":"2017-04-22T02:00","v":-10},{"s":"SPP Hub","t":"2017-04-22T03:00","v":-23},{"s":"SPP Hub","t":"2017-04-22T04:00","v":15},{"s":"SPP Hub","t":"2017-04-22T05:00","v":38},{"s":"SPP Hub","t":"2017-04-22T06:00","v":20},{"s":"SPP Hub","t":"2017-04-22T08:00","v":30},{"s":"SPP Hub","t":"2017-04-22T10:00","v":22},{"s":"SPP Hub","t":"2017-04-22T12:00","v":35},{"s":"SPP Hub","t":"2017-04-22T14:00","v":20},{"s":"SPP Hub","t":"2017-04-22T16:00","v":40},{"s":"SPP Hub","t":"2017-04-22T17:00","v":56},{"s":"SPP Hub","t":"2017-04-22T18:00","v":25},{"s":"SPP Hub","t":"2017-04-22T20:00","v":30},{"s":"SPP Hub","t":"2017-04-22T22:00","v":20},
   {"s":"SPP Hub","t":"2017-04-23T00:00","v":38},{"s":"SPP Hub","t":"2017-04-23T02:00","v":22},{"s":"SPP Hub","t":"2017-04-23T04:00","v":30},{"s":"SPP Hub","t":"2017-04-23T05:00","v":58},{"s":"SPP Hub","t":"2017-04-23T06:00","v":25},{"s":"SPP Hub","t":"2017-04-23T08:00","v":15},{"s":"SPP Hub","t":"2017-04-23T10:00","v":28},{"s":"SPP Hub","t":"2017-04-23T12:00","v":40},{"s":"SPP Hub","t":"2017-04-23T13:00","v":47},{"s":"SPP Hub","t":"2017-04-23T14:00","v":30},{"s":"SPP Hub","t":"2017-04-23T16:00","v":18},{"s":"SPP Hub","t":"2017-04-23T18:00","v":14},{"s":"SPP Hub","t":"2017-04-23T20:00","v":22},{"s":"SPP Hub","t":"2017-04-23T21:00","v":80},{"s":"SPP Hub","t":"2017-04-23T22:00","v":133},{"s":"SPP Hub","t":"2017-04-23T23:00","v":20},
   {"s":"SPP Hub","t":"2017-04-24T00:00","v":28},{"s":"SPP Hub","t":"2017-04-24T02:00","v":18},{"s":"SPP Hub","t":"2017-04-24T04:00","v":30},{"s":"SPP Hub","t":"2017-04-24T06:00","v":20},{"s":"SPP Hub","t":"2017-04-24T08:00","v":25},{"s":"SPP Hub","t":"2017-04-24T10:00","v":18},{"s":"SPP Hub","t":"2017-04-24T11:00","v":45},{"s":"SPP Hub","t":"2017-04-24T12:00","v":25},{"s":"SPP Hub","t":"2017-04-24T14:00","v":15},{"s":"SPP Hub","t":"2017-04-24T16:00","v":22},{"s":"SPP Hub","t":"2017-04-24T18:00","v":12},{"s":"SPP Hub","t":"2017-04-24T20:00","v":3},{"s":"SPP Hub","t":"2017-04-24T21:00","v":18},{"s":"SPP Hub","t":"2017-04-24T23:00","v":25},
   {"s":"SPP Hub","t":"2017-04-25T01:00","v":15},{"s":"SPP Hub","t":"2017-04-25T03:00","v":22},{"s":"SPP Hub","t":"2017-04-25T05:00","v":28},{"s":"SPP Hub","t":"2017-04-25T07:00","v":18},{"s":"SPP Hub","t":"2017-04-25T09:00","v":25},{"s":"SPP Hub","t":"2017-04-25T11:00","v":20},{"s":"SPP Hub","t":"2017-04-25T13:00","v":30},{"s":"SPP Hub","t":"2017-04-25T15:00","v":40},{"s":"SPP Hub","t":"2017-04-25T16:00","v":51},{"s":"SPP Hub","t":"2017-04-25T17:00","v":28},{"s":"SPP Hub","t":"2017-04-25T19:00","v":15},{"s":"SPP Hub","t":"2017-04-25T21:00","v":22},{"s":"SPP Hub","t":"2017-04-25T23:00","v":18},
   {"s":"SPP Hub","t":"2017-04-26T01:00","v":25},{"s":"SPP Hub","t":"2017-04-26T03:00","v":18},{"s":"SPP Hub","t":"2017-04-26T05:00","v":22},{"s":"SPP Hub","t":"2017-04-26T07:00","v":28},{"s":"SPP Hub","t":"2017-04-26T09:00","v":20},{"s":"SPP Hub","t":"2017-04-26T11:00","v":35},{"s":"SPP Hub","t":"2017-04-26T12:00","v":43},{"s":"SPP Hub","t":"2017-04-26T13:00","v":28},{"s":"SPP Hub","t":"2017-04-26T15:00","v":20},{"s":"SPP Hub","t":"2017-04-26T17:00","v":15},{"s":"SPP Hub","t":"2017-04-26T18:00","v":10},{"s":"SPP Hub","t":"2017-04-26T20:00","v":22},{"s":"SPP Hub","t":"2017-04-26T22:00","v":30},{"s":"SPP Hub","t":"2017-04-26T23:00","v":36},{"s":"SPP Hub","t":"2017-04-27T00:00","v":21}
  ]
 },
 "columns": 2,
 "spacing": {"row": 111, "column": 151},
 "bounds": "flush",
 "align": "each",
 "resolve": {"scale": {"color": "independent", "strokeDash": "independent"}, "legend": {"color": "independent", "strokeDash": "independent"}},
 "concat": [
  {
   "width": 434, "height": 277,
   "data": {"name": "cdf"},
   "mark": {"type": "line", "strokeWidth": 4, "interpolate": "monotone", "clip": true},
   "encoding": {
    "x": {"field": "p", "type": "quantitative", "scale": {"domain": [-100, 250], "nice": false, "zero": false}, "axis": {"values": [-100, 0, 100, 200], "title": "Price ($/MWh"}},
    "y": {"field": "c", "type": "quantitative", "scale": {"domain": [-0.05, 1.05], "nice": false, "zero": false}, "axis": {"values": [0, 0.5, 1], "format": ".1f", "title": "Cumulative Probability"}},
    "color": {"field": "s", "type": "nominal", "legend": null, "scale": {"domain": ["WFEC_MOORELAND_2","OKGECEDAVLD2","OKGE_SEILING","OKGESPIRITWIND","OKGECEDAR5LD2","OKGEKEENANWIND","OKGEWDWRDEHVUKEENAN","OKGEWDWRD1LD2","OKGEIODINE4LD2","WFECVICILD2","SPP Hub"], "range": ["#0000ff","#ffa500","#008000","#ff0000","#800080","#a52a2a","#ffc0cb","#808080","#808000","#00ffff","#000000"]}},
    "strokeDash": {"field": "s", "type": "nominal", "legend": null, "scale": {"domain": ["WFEC_MOORELAND_2","OKGECEDAVLD2","OKGE_SEILING","OKGESPIRITWIND","OKGECEDAR5LD2","OKGEKEENANWIND","OKGEWDWRDEHVUKEENAN","OKGEWDWRD1LD2","OKGEIODINE4LD2","WFECVICILD2","SPP Hub"], "range": [[1,0],[1,0],[1,0],[1,0],[1,0],[1,0],[1,0],[1,0],[1,0],[1,0],[14,6]]}}
   }
  },
  {
   "width": 432, "height": 277,
   "data": {"name": "monthly"},
   "view": {"stroke": null},
   "layer": [
    {
     "mark": {"type": "line", "strokeWidth": 3.8, "clip": true},
     "encoding": {
      "x": {"field": "i", "type": "quantitative", "scale": {"domain": [-0.55, 11.86], "nice": false, "zero": false}, "axis": {"values": [0, 3, 6, 9], "labelExpr": "datum.value == 0 ? 'Jan' : datum.value == 3 ? 'Mar' : datum.value == 6 ? 'Jul' : 'Oct'", "title": "Month", "domain": true, "domainColor": "black", "domainWidth": 1.6}},
      "y": {"field": "v", "type": "quantitative", "scale": {"domain": [1.6, 43.3], "nice": false, "zero": false}, "axis": {"values": [20, 40], "title": "Price ($/MWh", "domain": true, "domainColor": "black", "domainWidth": 1.6}},
      "color": {"field": "s", "type": "nominal", "scale": {"domain": ["WFEC_MOORELAND_2","OKGECEDAVLD2","OKGE_SEILING","OKGESPIRITWIND","OKGECEDAR5LD2","OKGEKEENANWIND","OKGEWDWRDEHVUKEENAN","OKGEWDWRD1LD2","OKGEIODINE4LD2","WFECVICILD2","SPP Hub"], "range": ["#0000ff","#ffa500","#008000","#ff0000","#800080","#a52a2a","#ffc0cb","#808080","#808000","#00ffff","#000000"]},
       "legend": {"orient": "none", "legendX": 10, "legendY": 379, "title": null, "symbolType": "stroke", "symbolStrokeWidth": 4, "symbolSize": 2209, "clipHeight": 27.6, "rowPadding": 0, "labelFontSize": 21, "labelFont": "DejaVu Sans", "labelColor": "black", "labelOffset": 15, "labelLimit": 0, "padding": 7, "strokeColor": "#cccccc", "cornerRadius": 4, "fillColor": "white"}},
      "strokeDash": {"field": "s", "type": "nominal", "scale": {"domain": ["WFEC_MOORELAND_2","OKGECEDAVLD2","OKGE_SEILING","OKGESPIRITWIND","OKGECEDAR5LD2","OKGEKEENANWIND","OKGEWDWRDEHVUKEENAN","OKGEWDWRD1LD2","OKGEIODINE4LD2","WFECVICILD2","SPP Hub"], "range": [[1,0],[1,0],[1,0],[1,0],[1,0],[1,0],[1,0],[1,0],[1,0],[1,0],[14,6]]},
       "legend": {"orient": "none", "legendX": 10, "legendY": 379, "title": null, "symbolType": "stroke", "symbolStrokeWidth": 4, "symbolSize": 2209, "clipHeight": 27.6, "rowPadding": 0, "labelFontSize": 21, "labelFont": "DejaVu Sans", "labelColor": "black", "labelOffset": 15, "labelLimit": 0, "padding": 7, "strokeColor": "#cccccc", "cornerRadius": 4, "fillColor": "white"}}
     }
    },
    {
     "mark": {"type": "line", "opacity": 0},
     "encoding": {
      "x": {"field": "i", "type": "quantitative", "axis": {"orient": "top", "labels": false, "ticks": false, "title": null, "domain": true, "domainColor": "black", "domainWidth": 1.6}},
      "y": {"field": "v", "type": "quantitative", "axis": {"values": [20, 40], "title": "Price ($/MWh", "domain": true, "domainColor": "black", "domainWidth": 1.6}}
     }
    }
   ],
   "resolve": {"axis": {"x": "independent"}}
  },
  {
   "width": 434, "height": 277,
   "data": {"name": "hourly"},
   "layer": [
    {
     "transform": [{"filter": "datum.s != 'SPP Hub'"}],
     "mark": {"type": "line", "strokeWidth": 1.7, "clip": true},
     "encoding": {
      "x": {"field": "t", "type": "temporal", "scale": {"domain": [{"year": 2017, "month": 4, "date": 19, "hours": 15, "minutes": 12}, {"year": 2017, "month": 4, "date": 27, "hours": 8, "minutes": 50}], "nice": false}, "axis": {"values": [{"year": 2017, "month": 4, "date": 20}, {"year": 2017, "month": 4, "date": 23}, {"year": 2017, "month": 4, "date": 26}], "format": "%-m/%d/%y", "title": "Date"}},
      "y": {"field": "v", "type": "quantitative", "scale": {"domain": [-121.9, 240.7], "nice": false, "zero": false}, "axis": {"values": [-100, 0, 100, 200], "title": "Price ($/MWh"}},
      "color": {"field": "s", "type": "nominal", "legend": null, "scale": {"domain": ["WFEC_MOORELAND_2","OKGECEDAVLD2","OKGE_SEILING","OKGESPIRITWIND","OKGECEDAR5LD2","OKGEKEENANWIND","OKGEWDWRDEHVUKEENAN","OKGEWDWRD1LD2","OKGEIODINE4LD2","WFECVICILD2","SPP Hub"], "range": ["#0000ff","#ffa500","#008000","#ff0000","#800080","#a52a2a","#ffc0cb","#808080","#808000","#00ffff","#000000"]}}
     }
    },
    {
     "transform": [{"filter": "datum.s == 'SPP Hub'"}],
     "mark": {"type": "line", "strokeWidth": 4, "strokeDash": [8, 4], "color": "#000000", "clip": true},
     "encoding": {
      "x": {"field": "t", "type": "temporal"},
      "y": {"field": "v", "type": "quantitative"}
     }
    }
   ]
  }
 ]
}
